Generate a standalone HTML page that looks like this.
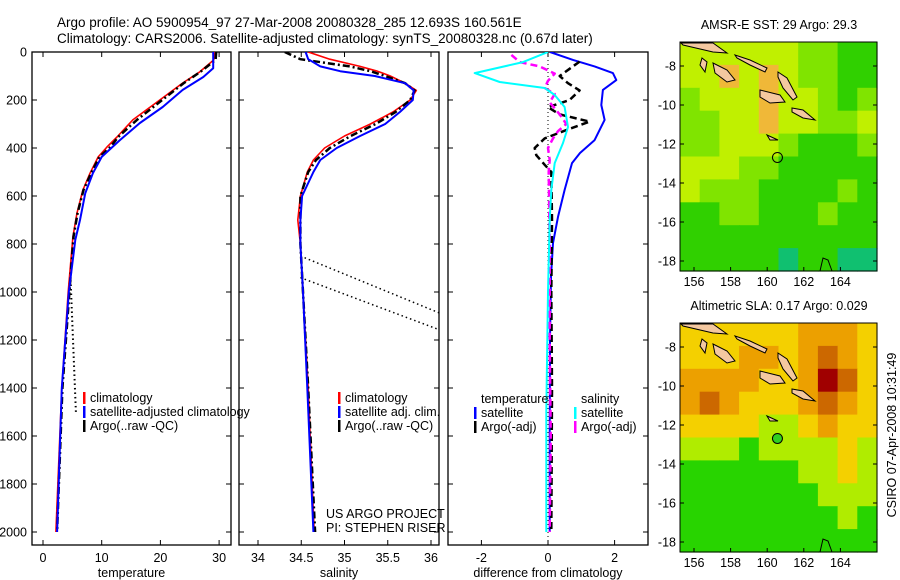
<!DOCTYPE html>
<html><head><meta charset="utf-8"><style>
body{margin:0;background:#fff;}
svg{display:block;font-family:"Liberation Sans",sans-serif;}
</style></head><body>
<svg id="c" width="900" height="580" viewBox="0 0 900 580">
<text x="57" y="27" font-size="13.5">Argo profile: AO 5900954_97 27-Mar-2008 20080328_285 12.693S 160.561E</text>
<text x="57" y="43" font-size="13.5">Climatology: CARS2006. Satellite-adjusted climatology: synTS_20080328.nc (0.67d later)</text>
<text transform="translate(896,435) rotate(-90)" text-anchor="middle" font-size="12.5">CSIRO 07-Apr-2008 10:31:49</text>
</svg>
<script>
// ---------- data ----------
const tDepth = [0,33,83,129,200,283,354,396,437,505,575,671,770,1000,1400,2000];
const tClim  = [29.2,29.1,26.7,23.8,19.9,15.3,12.6,10.9,9.4,8.0,6.8,5.8,5.1,4.3,3.2,2.2];
const tSatDepth = [0,68,104,158,229,296,367,437,505,588,700,783,1000,1400,2000];
const tSat   = [29.0,29.0,27.3,23.8,20.4,16.5,13.1,10.0,8.5,7.2,6.3,5.5,4.4,3.2,2.4];
const tArgo  = [29.5,29.4,26.8,24.0,20.3,16.0,12.8,11.5,9.6,8.2,6.9,5.9,5.2,4.5,3.3,2.4];
const tBadDepth = [950,1500];
const tBad = [4.7,5.6];

const sDepth = [0,30,60,80,100,130,160,200,250,300,350,400,450,500,600,700,800,1000,1400,2000];
const sClim  = [34.58,34.83,35.18,35.38,35.53,35.70,35.83,35.76,35.56,35.30,35.00,34.77,34.64,34.57,34.49,34.46,34.49,34.52,34.58,34.65];
const sSat   = [34.55,34.58,34.72,34.95,35.35,35.70,35.80,35.79,35.64,35.47,35.18,34.91,34.72,34.64,34.51,34.49,34.49,34.52,34.57,34.64];
const sArgo  = [34.31,34.49,35.06,35.30,35.47,35.70,35.81,35.76,35.59,35.36,35.07,34.83,34.67,34.58,34.49,34.49,34.49,34.52,34.58,34.66];
const sBad1Depth = [850,1088], sBad1 = [34.49,36.1];
const sBad2Depth = [940,1158], sBad2 = [34.49,36.1];

const dDepth = [0,33,60,88,117,158,221,283,367,421,463,575,687,796,937,1200,1600,2000];
const dTSat  = [0.06,0.75,1.4,1.95,2.05,1.65,1.6,1.7,1.4,0.96,0.72,0.5,0.3,0.15,0.09,0.06,0.05,0.05];
const dSDepth= [0,42,88,125,150,179,229,313,379,463,575,700,1000,1500,2000];
const dSSat  = [0,-0.75,-2.2,-1.45,-0.1,0.2,0.5,0.6,0.45,0.2,0.1,0.05,0,-0.05,-0.05];
const dSArgoDepth=[12,42,60,90,120,150,175,210,260,300,330,360,400,450,500,800,1200,1600,2000];
const dSArgo = [-1.1,-0.85,-0.25,0.2,0,-0.1,0.2,0.05,0.35,0.55,0.3,0.15,0,0.05,0.02,0.05,0.05,0.08,0.05];
const dTArgoDepth=[40,70,100,130,160,200,230,260,290,320,360,400,430,470,500,700,1000,1400,2000];
const dTArgo = [0.95,0.65,0.35,0.6,0.95,0.65,0,0.35,1.25,0.65,-0.1,-0.4,-0.35,-0.1,0.1,0.12,0.1,0.12,0.1];

const sstGrid = [
[3,3,3,3,3,3,2,2,1,1],[3,3,4,3,4,3,2,2,1,1],[2,3,3,3,4,3,3,2,1,2],[2,2,3,3,4,3,3,2,2,3],
[2,2,3,3,3,2,1,1,1,2],[3,3,3,2,2,1,1,1,1,1],[3,2,2,2,1,1,1,1,2,1],[1,1,2,2,1,1,1,2,1,1],
[1,1,1,1,1,1,1,1,1,1],[1,1,1,1,1,0,1,1,0,0]];
const slaGrid = [
[3,3,3,3,3,3,4,4,4,3],[3,3,3,4,4,3,4,5,4,3],[4,4,4,4,3,3,4,6,5,3],[4,5,4,3,3,3,4,5,4,3],
[3,3,3,3,2,2,3,4,3,3],[2,2,2,1,2,2,2,2,3,2],[1,1,1,1,1,1,2,2,3,2],[1,1,1,1,1,1,1,2,2,2],
[1,1,1,1,1,1,1,1,2,1],[1,1,1,1,1,1,1,1,1,1]];
const sstColors=["#10c070","#30d000","#80e400","#c0f000","#f0b838"];
const slaColors=["#10c070","#28d400","#b0ec00","#f4d000","#eca000","#cc6800","#a00000"];
const profLon=160.56, profLat=-12.69;

// ---------- helpers ----------
const svg=document.getElementById('c');
const NS="http://www.w3.org/2000/svg";
function mk(tag,attrs,parent){const e=document.createElementNS(NS,tag);for(const k in attrs)e.setAttribute(k,attrs[k]);(parent||svg).appendChild(e);return e;}
const Y=d=>52+0.24*d;
function axisPanel(x0,x1,name,xt,xl,xlabel,sx,leftLabels){
  const g=mk('g',{});
  
  
  const r=mk('rect',{x:x0,y:52,width:x1-x0,height:493,fill:'none',stroke:'#000','stroke-width':1.3},g);
  
  
  for(let d=0;d<=2000;d+=200){
    mk('line',{x1:x0,x2:x0+5,y1:Y(d),y2:Y(d),stroke:'#000'},g);
    mk('line',{x1:x1-5,x2:x1,y1:Y(d),y2:Y(d),stroke:'#000'},g);
    if(leftLabels){const t=mk('text',{x:x0-5,y:Y(d)+4.5,'text-anchor':'end','font-size':12.5},g);t.textContent=d;
      
      }
  }
  xt.forEach((v,i)=>{const x=sx(v);
    mk('line',{x1:x,x2:x,y1:545,y2:540,stroke:'#000'},g);
    mk('line',{x1:x,x2:x,y1:52,y2:57,stroke:'#000'},g);
    const t=mk('text',{x:x,y:562,'text-anchor':'middle','font-size':12.5},g);t.textContent=xl[i];
    
    });
  const t=mk('text',{x:(x0+x1)/2,y:577,'text-anchor':'middle','font-size':12.5},g);t.textContent=xlabel;
  
  
  return g;
}
function line(xs,ds,sx,color,w,dash,name,clip){
  const pts=xs.map((v,i)=>sx(v).toFixed(1)+','+Y(ds[i]).toFixed(1)).join(' ');
  const a={points:pts,fill:'none',stroke:color,'stroke-width':w,'stroke-linejoin':'round'};
  if(dash)a['stroke-dasharray']=dash; if(clip)a['clip-path']=clip;
  const p=mk('polyline',a);
  
  
}
function legend(x,y,rows){
  rows.forEach((r,i)=>{
    if(r[1]){const b=mk('rect',{x:x,y:y+i*14-10,width:2.5,height:12,fill:r[1]});
      
      }
    const t=mk('text',{x:x+7,y:y+i*14,'font-size':12.5});t.textContent=r[0];
    
    
  });
}
const defs=mk('defs',{});
[['cp1',32,231],['cp2',239,439],['cp3',448,648]].forEach(c=>{const cp=mk('clipPath',{id:c[0]},defs);mk('rect',{x:c[1],y:52,width:c[2]-c[1],height:493},cp);});

// ---------- panel 1: temperature ----------
const sxT=v=>43+5.87*v;
axisPanel(32,231,'temperature-panel',[0,10,20,30],['0','10','20','30'],'temperature',sxT,true);
line(tBad,tBadDepth,sxT,'#000',2,'1.5,3','temp-raw-bad-dotted','url(#cp1)');
line(tClim,tDepth,sxT,'#f00',1.6,null,'temp-climatology-line','url(#cp1)');
line(tArgo,tDepth,sxT,'#000',2.5,'7,3,2,3','temp-argo-line','url(#cp1)');
line(tSat,tSatDepth,sxT,'#00f',2,null,'temp-satellite-line','url(#cp1)');
legend(83,402,[['climatology','#f00'],['satellite-adjusted climatology','#00f'],['Argo(..raw -QC)','#000']]);

// ---------- panel 2: salinity ----------
const sxS=v=>258+86.5*(v-34);
axisPanel(239,439,'salinity-panel',[34,34.5,35,35.5,36],['34','34.5','35','35.5','36'],'salinity',sxS,false);
line(sBad1,sBad1Depth,sxS,'#000',1.5,'1.5,3','sal-raw-bad-dotted-1','url(#cp2)');
line(sBad2,sBad2Depth,sxS,'#000',1.5,'1.5,3','sal-raw-bad-dotted-2','url(#cp2)');
line(sClim,sDepth,sxS,'#f00',1.6,null,'sal-climatology-line','url(#cp2)');
line(sArgo,sDepth,sxS,'#000',2.5,'7,3,2,3','sal-argo-line','url(#cp2)');
line(sSat,sDepth,sxS,'#00f',2,null,'sal-satellite-line','url(#cp2)');
legend(338,402,[['climatology','#f00'],['satellite adj. clim.','#00f'],['Argo(..raw -QC)','#000']]);
legend(319,518,[['US ARGO PROJECT',null],['PI: STEPHEN RISER',null]]);

// ---------- panel 3: differences ----------
const sxD=v=>548+33.3*v;
axisPanel(448,648,'difference-panel',[-2,0,2],['-2','0','2'],'difference from climatology',sxD,false);
const z=mk('line',{x1:548,x2:548,y1:52,y2:545,stroke:'#000','stroke-dasharray':'1,3'});


line(dTSat,dDepth,sxD,'#00f',2,null,'temp-satellite-diff-line','url(#cp3)');
line(dTArgo,dTArgoDepth,sxD,'#000',2.5,'7,4','temp-argo-diff-line','url(#cp3)');
line(dSArgo,dSArgoDepth,sxD,'#f0f',2.5,'7,4','sal-argo-diff-line','url(#cp3)');
line(dSSat,dSDepth,sxD,'#0ff',2,null,'sal-satellite-diff-line','url(#cp3)');
legend(474,403,[['temperature',null],['satellite','#00f'],['Argo(-adj)','#000']]);
legend(574,403,[['salinity',null],['satellite','#0ff'],['Argo(-adj)','#f0f']]);

// ---------- maps ----------
// island outlines as pixel offsets relative to the top map frame's top-left (680,42)
const islands=[
 [[1,1],[33,1],[47,11],[33,10],[3,3]],
 [[55,13],[70,18],[87,26],[85,30],[70,23],[57,16]],
 [[22,16],[27,20],[25,30],[20,23]],
 [[33,21],[47,28],[55,38],[47,40],[35,31]],
 [[98,30],[107,36],[117,55],[113,58],[103,46],[98,35]],
 [[80,48],[100,53],[105,60],[90,61],[80,55]],
 [[112,66],[123,68],[135,78],[123,76],[112,70]],
 [[87,93],[98,98],[90,98]]];
function map(top,grid,colors,title,name,markerFill){
  const g=mk('g',{});
  
  
  const X=lon=>694+18.3*(lon-156);
  const LY=lat=>top+24+19.5*(-8-lat);
  const x0=680,x1=877,y0=top,y1=top+229;
  const nr=grid.length,nc=grid[0].length,cw=(x1-x0)/nc,ch=(y1-y0)/nr;
  grid.forEach((row,i)=>row.forEach((v,j)=>{
    const c=mk('rect',{x:x0+j*cw,y:y0+i*ch,width:cw+0.6,height:ch+0.6,fill:colors[v]},g);
    
    
  }));
  islands.forEach(p=>{const s=mk('polygon',{points:p.map(q=>(x0+q[0])+','+(y0+q[1])).join(' '),fill:'#f4c8a0',stroke:'#000','stroke-width':1},g);
    
    });
  mk('polyline',{points:[[140,229],[143,216],[148,218],[152,229]].map(q=>(x0+q[0])+','+(y0+q[1])).join(' '),fill:'none',stroke:'#000'},g);
  const m=mk('circle',{cx:X(profLon),cy:LY(profLat),r:5,fill:markerFill,stroke:'#000'},g);
  
  
  mk('rect',{x:x0,y:y0,width:x1-x0,height:y1-y0,fill:'none',stroke:'#000'},g);
  const t=mk('text',{x:779,y:top-13,'text-anchor':'middle','font-size':12.5},g);t.textContent=title;
  
  
  [-8,-10,-12,-14,-16,-18].forEach(l=>{const y=LY(l);mk('line',{x1:x0,x2:x0+4,y1:y,y2:y,stroke:'#000'},g);mk('line',{x1:x1-4,x2:x1,y1:y,y2:y,stroke:'#000'},g);
    const tt=mk('text',{x:x0-4,y:y+4.5,'text-anchor':'end','font-size':12.5},g);tt.textContent=l;
    
    });
  [156,158,160,162,164].forEach(l=>{const x=X(l);mk('line',{x1:x,x2:x,y1:y1,y2:y1-4,stroke:'#000'},g);
    const tt=mk('text',{x:x,y:y1+15,'text-anchor':'middle','font-size':12.5},g);tt.textContent=l;
    
    });
}
map(42,sstGrid,sstColors,'AMSR-E SST: 29 Argo: 29.3','sst-map','none');
map(323,slaGrid,slaColors,'Altimetric SLA: 0.17 Argo: 0.029','sla-map','#30d020');
</script>
</body></html>
